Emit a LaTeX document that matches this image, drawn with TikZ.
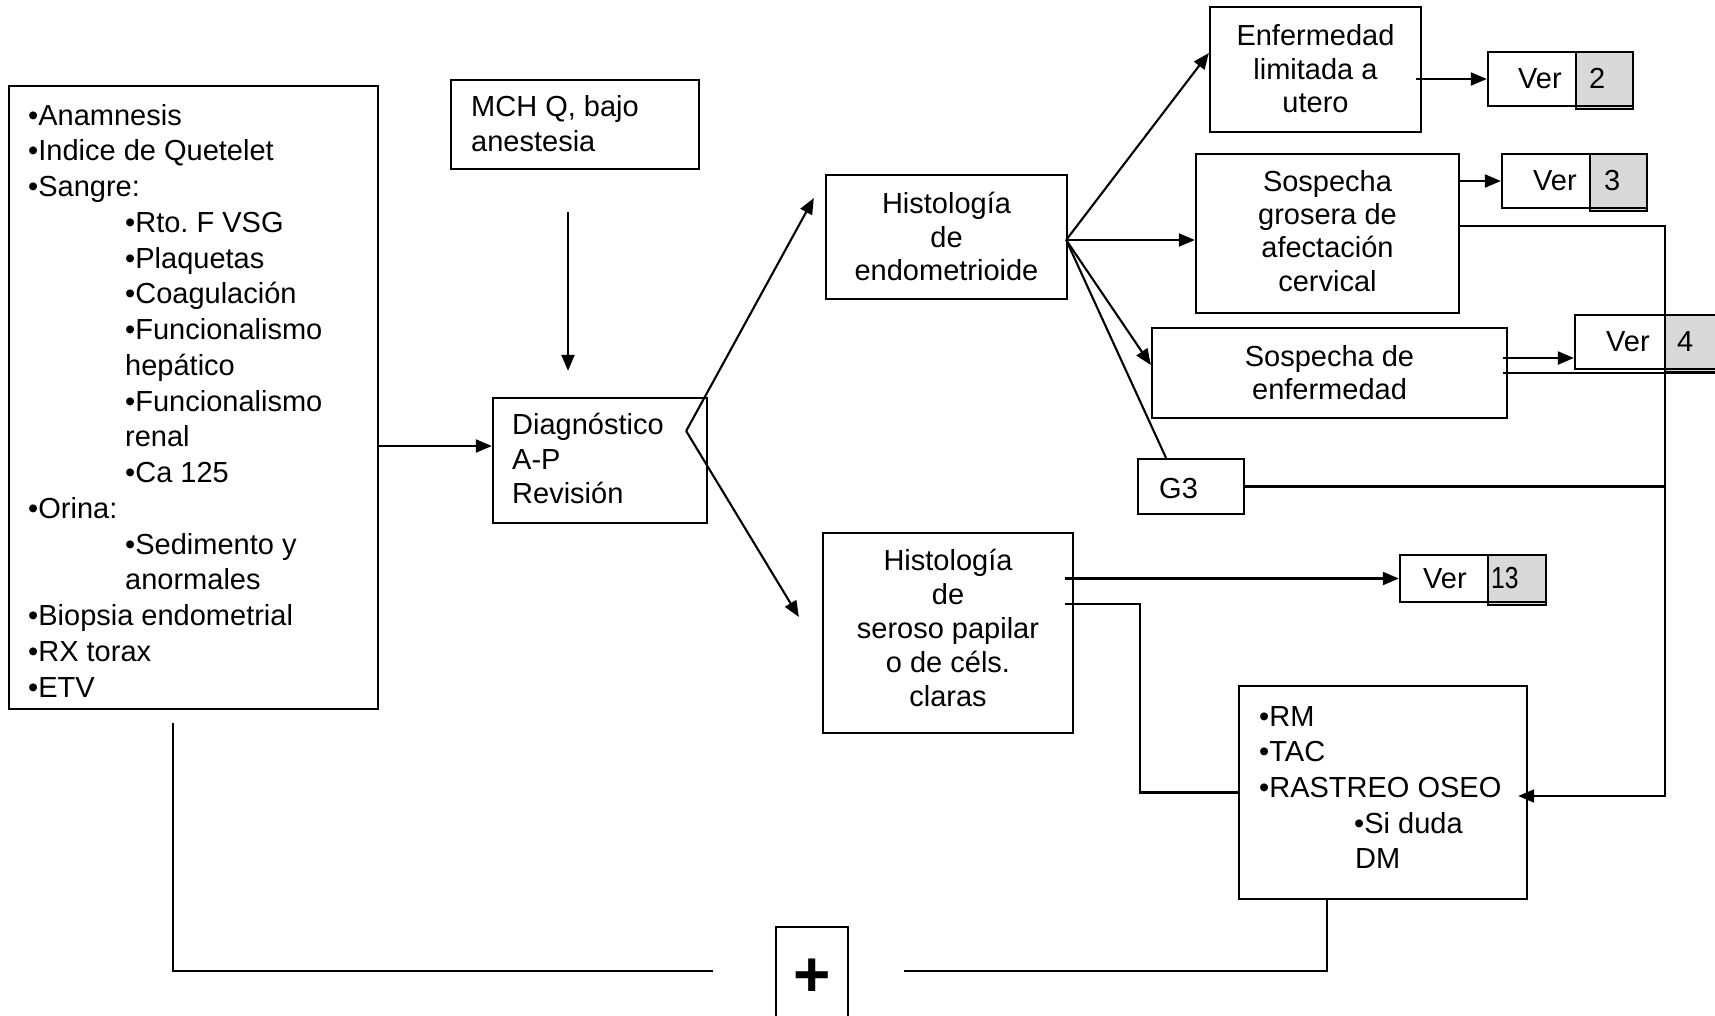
\documentclass[tikz,border=0pt]{standalone}
\usepackage{fontspec}
\usepackage{graphicx}
\setmainfont{Liberation Sans}
\frenchspacing
\usetikzlibrary{arrows.meta,calc}
\definecolor{vgray}{RGB}{217,217,217}
\begin{document}
\begin{tikzpicture}[x=1pt,y=-1pt,
  box/.style={draw,line width=2.3pt,inner sep=0pt},
  gbox/.style={draw,line width=2.3pt,fill=vgray,inner sep=0pt},
  txt/.style={inner sep=0pt,font=\fontsize{29}{34}\selectfont},
  conn/.style={line width=2.1pt},
  arr/.style={line width=2.1pt,-{Triangle[length=16pt,width=13pt]}}]
\useasboundingbox (0,0) rectangle (1715,1015);

% ---------- boxes ----------
\node[box,minimum width=369pt,minimum height=623pt] (L) at (193.5,397.5) {};
\node[box,minimum width=248pt,minimum height=89pt] (mch) at (575,124.5) {};
\node[box,minimum width=214pt,minimum height=125pt] (diag) at (600,460.5) {};
\node[box,minimum width=241pt,minimum height=124pt] (he) at (946.5,237) {};
\node[box,minimum width=250pt,minimum height=200pt] (hs) at (948,633) {};
\node[box,minimum width=211pt,minimum height=125pt] (enf) at (1315.5,69.5) {};
\node[box,minimum width=263pt,minimum height=159pt] (sg) at (1327.5,233.5) {};
\node[box,minimum width=355pt,minimum height=90pt] (se) at (1329.5,373) {};
\node[box,minimum width=106pt,minimum height=55pt] (g3) at (1191,486.5) {};
\node[box,minimum width=288pt,minimum height=213pt] (rm) at (1383,792.5) {};
\node[box,minimum width=72pt,minimum height=108pt] (plus) at (812,981) {};

% ---------- Ver boxes ----------
\node[gbox,minimum width=57pt,minimum height=57pt] (v2g) at (1604.5,80.5) {};
\node[box,minimum width=145pt,minimum height=54pt] (v2) at (1560.5,79) {};
\node[gbox,minimum width=57pt,minimum height=57pt] (v3g) at (1618.5,182.5) {};
\node[box,minimum width=145pt,minimum height=54pt] (v3) at (1574.5,181) {};
\node[gbox,minimum width=65pt,minimum height=57pt] (v4g) at (1697.5,343.5) {};
\node[box,minimum width=155pt,minimum height=54pt] (v4) at (1652.5,342) {};
\node[gbox,minimum width=58pt,minimum height=50pt] (v13g) at (1517,580) {};
\node[box,minimum width=146pt,minimum height=47pt] (v13) at (1473,578.5) {};

\node[txt,anchor=base west] (v2t) at (1518,88) {Ver};
\node[txt,anchor=base west] (v2n) at (1589,88) {2};
\node[txt,anchor=base west] (v3t) at (1533,190) {Ver};
\node[txt,anchor=base west] (v3n) at (1604,190) {3};
\node[txt,anchor=base west] (v4t) at (1606,351) {Ver};
\node[txt,anchor=base west] (v4n) at (1677,351) {4};
\node[txt,anchor=base west] (v13t) at (1423,588) {Ver};
\node[txt,anchor=base west] (v13n) at (1491,588) {\scalebox{0.85}[1.05]{13}};

% ---------- texts ----------
\foreach \xx/\yy/\lbl [count=\i] in {
  28/125/•Anamnesis, 28/160.75/•Indice de Quetelet, 28/196.5/•Sangre:,
  125/232.25/•Rto. F VSG, 125/268/•Plaquetas, 125/303.75/•Coagulación,
  125/339.5/•Funcionalismo, 125/375.25/hepático, 125/411/•Funcionalismo,
  125/446.75/renal, 125/482.5/•Ca 125, 28/518.25/•Orina:,
  125/554/•Sedimento y, 125/589.75/anormales, 28/625.5/•Biopsia endometrial,
  28/661.25/•RX torax, 28/697/•ETV}
  \node[txt,anchor=base west] (Lt\i) at (\xx,\yy) {\lbl};

\node[txt,anchor=base west] (mch1) at (471,116) {MCH Q, bajo};
\node[txt,anchor=base west] (mch2) at (471,151) {anestesia};

\foreach \yy/\lbl [count=\i] in {434/Diagnóstico, 469/A-P, 503/Revisión}
  \node[txt,anchor=base west] (dg\i) at (512,\yy) {\lbl};

\foreach \yy/\lbl [count=\i] in {213/Histología, 247/de, 280/endometrioide}
  \node[txt,anchor=base] (he\i) at (946.5,\yy) {\lbl};

\foreach \yy/\lbl [count=\i] in {570/Histología, 604/de, 638/seroso papilar, 672/o de céls., 706/claras}
  \node[txt,anchor=base] (hs\i) at (948,\yy) {\lbl};

\foreach \yy/\lbl [count=\i] in {45/Enfermedad, 79/limitada a, 112/utero}
  \node[txt,anchor=base] (enf\i) at (1315.5,\yy) {\lbl};

\foreach \yy/\lbl [count=\i] in {191/Sospecha, 224/grosera de, 257.5/afectación, 291/cervical}
  \node[txt,anchor=base] (sg\i) at (1327.5,\yy) {\lbl};

\foreach \yy/\lbl [count=\i] in {366/Sospecha de, 399/enfermedad}
  \node[txt,anchor=base] (se\i) at (1329.5,\yy) {\lbl};

\node[txt,anchor=base west] (g3t) at (1159,498) {G3};

\foreach \xx/\yy/\lbl [count=\i] in {1259/726/•RM, 1259/761/•TAC, 1259/797/•RASTREO OSEO, 1354/833/•Si duda, 1355/868/DM}
  \node[txt,anchor=base west] (rm\i) at (\xx,\yy) {\lbl};

\node[inner sep=0pt,font=\fontsize{64}{64}\selectfont\bfseries] (plust) at (812,978) {+};

% ---------- connectors ----------
\coordinate (dIn) at ([yshift=14.5pt]diag.west);
\draw[arr] (L.east |- dIn) -- (dIn);
\draw[arr] ([xshift=-7pt,yshift=-42pt]mch.south) -- ([xshift=-32pt,yshift=26pt]diag.north);

\coordinate (dOut) at ([xshift=-22pt,yshift=29.5pt]diag.east);
\draw[arr] (dOut) -- ([xshift=-11pt,yshift=39pt]he.west);
\draw[arr] (dOut) -- ([xshift=-23pt,yshift=16pt]hs.west);

\coordinate (fan) at ([xshift=-2pt,yshift=-3pt]he.east);
\draw[arr] (fan) -- ([yshift=16.5pt]enf.west);
\draw[arr] (fan) -- (fan -| sg.west);
\draw[arr] (fan) -- ([yshift=8pt]se.west);
\draw[conn] (fan) -- ([xshift=-25pt]g3.north);

\coordinate (enfR) at ([xshift=-6pt]enf.east);
\draw[arr] (enfR |- v2.west) -- (v2.west);
\draw[arr] (sg.east |- v3.west) -- (v3.west);

\draw[arr] ([yshift=7.5pt]sg.east) -- ++(205,0) |- ([xshift=-10pt,yshift=-3.5pt]rm.east);

\coordinate (v4in) at ([yshift=-16pt]v4.west);
\coordinate (seR) at ([xshift=-5pt]se.east);
\draw[arr] (seR |- v4in) -- (v4in);
\draw[conn] (seR) -- ++(220,0);

\draw[conn] (g3.east) -- ++(420,0);

\coordinate (hsA) at ([xshift=-9pt]hs.east);
\draw[arr] (hsA |- v13.west) -- (v13.west);
\draw[conn] ([xshift=-9pt,yshift=29pt]hs.east) -- ++(75,0) |- (rm.west);

\draw[conn] ([xshift=-20.5pt,yshift=-13pt]L.south) |- ([xshift=-62pt,yshift=10pt]plus.west);
\draw[conn] ([xshift=-56pt]rm.south) |- ([xshift=55pt,yshift=10pt]plus.east);
\end{tikzpicture}
\end{document}
